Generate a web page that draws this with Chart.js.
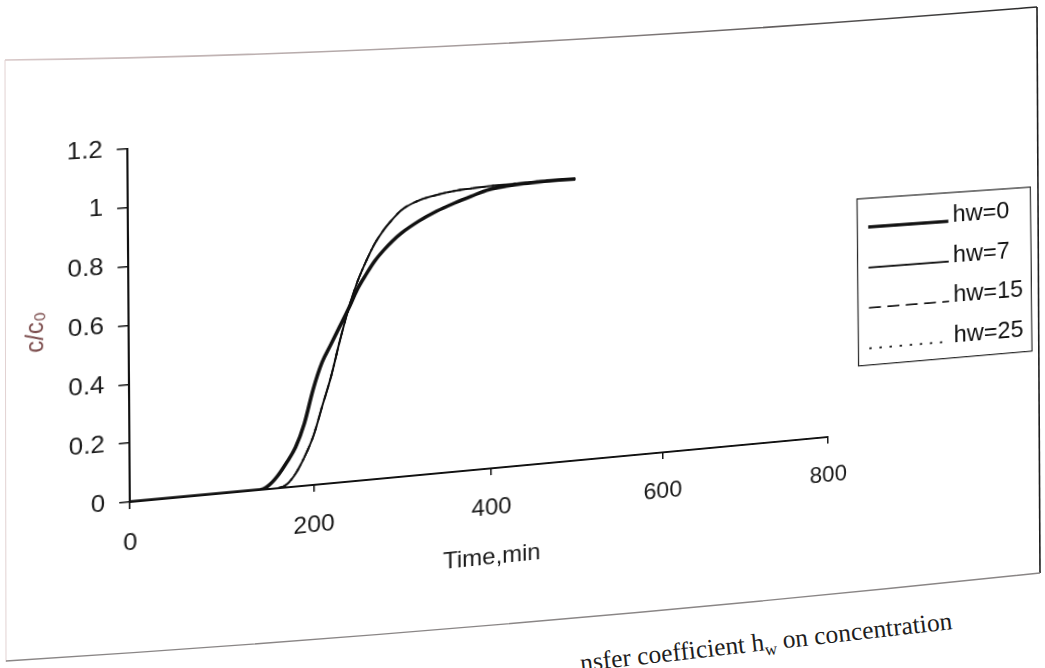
<!DOCTYPE html>
<html lang="en">
<head>
<meta charset="UTF-8">
<title>Effect of wall heat transfer coefficient on concentration</title>
<script src="https://cdn.jsdelivr.net/npm/chart.js@4.4.0/dist/chart.umd.min.js"></script>
<style>
  html, body { margin: 0; padding: 0; background: #fff; overflow: hidden; }
  #page { position: relative; width: 1045px; height: 668px; overflow: hidden; background: #fff; }
  #frame { position: absolute; left: 0; top: 0; }
  #plot { position: absolute; left: 0; top: 0; transform-origin: 0 0; }
</style>
</head>
<body>
<div id="page">
  <!-- outer box of the figure and the caption under it -->
  <svg id="frame" width="1045" height="668">
    <defs>
      <linearGradient id="topEdge" x1="0" x2="1" y1="0" y2="0">
        <stop offset="0" stop-color="#d8c8c8"/>
        <stop offset="0.45" stop-color="#a59c9c"/>
        <stop offset="1" stop-color="#2a2a2a"/>
      </linearGradient>
    </defs>
    <path d="M5,60 Q450,55 1037,7" stroke="url(#topEdge)" stroke-width="1.6" fill="none"/>
    <line x1="5" y1="60" x2="6" y2="662" stroke="#e2d2d2" stroke-width="1"/>
    <line x1="1037" y1="7" x2="1040" y2="573" stroke="#1e1e1e" stroke-width="1.6"/>
    <path d="M6,661 Q500,630 1040,573" stroke="#8a8686" stroke-width="1.4" fill="none"/>
    <text x="953" y="629" text-anchor="end" transform="rotate(-6.5 953 629)"
          font-family="'Liberation Serif', 'Times New Roman', serif" font-size="25.5" fill="#1e1e1e">nsfer coefficient h<tspan font-size="17" dy="5">w</tspan><tspan dy="-5"> on concentration</tspan></text>
  </svg>
  <canvas id="plot" width="1100" height="680"></canvas>
</div>

<script>
// breakthrough curves, time in minutes
const times = [0, 140, 150, 160, 170, 180, 190, 200, 210, 220, 230, 240, 250, 260,
               270, 280, 290, 300, 320, 340, 360, 380, 400, 420, 440, 460, 480, 500];
const hw0  = [0, 0, 0.012, 0.042, 0.085, 0.135, 0.215, 0.33, 0.42, 0.48, 0.54, 0.6, 0.665, 0.715,
              0.76, 0.795, 0.825, 0.85, 0.888, 0.918, 0.942, 0.963, 0.982, 0.99, 0.995, 0.998, 1.0, 1.0];
const hw7  = [0, 0, 0, 0, 0.01, 0.045, 0.1, 0.17, 0.27, 0.37, 0.49, 0.6, 0.69, 0.76,
              0.82, 0.865, 0.9, 0.93, 0.96, 0.975, 0.985, 0.99, 0.994, 0.996, 0.998, 1.0, 1.0, 1.0];
const hw15 = [0, 0, 0, 0, 0.01, 0.045, 0.1, 0.17, 0.27, 0.37, 0.49, 0.6, 0.69, 0.76,
              0.82, 0.865, 0.9, 0.93, 0.96, 0.975, 0.985, 0.99, 0.994, 0.996, 0.998, 1.0, 1.0, 1.0];
const hw25 = [0, 0, 0, 0, 0.01, 0.045, 0.1, 0.17, 0.27, 0.37, 0.49, 0.6, 0.69, 0.76,
              0.82, 0.865, 0.9, 0.93, 0.96, 0.975, 0.985, 0.99, 0.994, 0.996, 0.998, 1.0, 1.0, 1.0];
const seriesNames = ['hw=0', 'hw=7', 'hw=15', 'hw=25'];
const xTickValues = [0, 200, 400, 600, 800];
const yTickValues = [0, 0.2, 0.4, 0.6, 0.8, 1, 1.2];

// where the plot corners land on the (tilted) page
const plotCorners = [[127.5, 149], [825, 108], [828, 437], [130, 502]];
// legend box on the page: top-left and bottom-right
const legendTL = [857, 199];
const legendBR = [1032, 351];

const FONT = '"Liberation Sans", Arial, sans-serif';
Chart.defaults.font.family = FONT;

function toPoints(ys) {
    return times.map((t, i) => ({ x: t, y: ys[i] }));
}

// 4-point projective map, returns 3x3 row-major
function solveHomography(src, dst) {
    const A = [], B = [];
    for (let i = 0; i < 4; i++) {
        const [x, y] = src[i], [u, v] = dst[i];
        A.push([x, y, 1, 0, 0, 0, -u * x, -u * y]); B.push(u);
        A.push([0, 0, 0, x, y, 1, -v * x, -v * y]); B.push(v);
    }
    const n = 8;
    for (let i = 0; i < n; i++) {
        let p = i;
        for (let r = i + 1; r < n; r++) if (Math.abs(A[r][i]) > Math.abs(A[p][i])) p = r;
        [A[i], A[p]] = [A[p], A[i]];
        [B[i], B[p]] = [B[p], B[i]];
        for (let r = i + 1; r < n; r++) {
            const f = A[r][i] / A[i][i];
            for (let c = i; c < n; c++) A[r][c] -= f * A[i][c];
            B[r] -= f * B[i];
        }
    }
    const h = new Array(n);
    for (let i = n - 1; i >= 0; i--) {
        let s = B[i];
        for (let c = i + 1; c < n; c++) s -= A[i][c] * h[c];
        h[i] = s / A[i][i];
    }
    return [h[0], h[1], h[2], h[3], h[4], h[5], h[6], h[7], 1];
}

function invert3(m) {
    const [a, b, c, d, e, f, g, h, i] = m;
    const A = e * i - f * h, B = -(d * i - f * g), C = d * h - e * g;
    const det = a * A + b * B + c * C;
    return [A / det, -(b * i - c * h) / det, (b * f - c * e) / det,
            B / det, (a * i - c * g) / det, -(a * f - c * d) / det,
            C / det, -(a * h - b * g) / det, (a * e - b * d) / det];
}

function mapPoint(m, p) {
    const w = m[6] * p[0] + m[7] * p[1] + m[8];
    return [(m[0] * p[0] + m[1] * p[1] + m[2]) / w, (m[3] * p[0] + m[4] * p[1] + m[5]) / w];
}

let pageToCanvas = null;

// tilts the canvas like the scanned sheet and draws the boxed legend
const sheetWarp = {
    id: 'sheetWarp',
    afterLayout(chart) {
        const a = chart.chartArea;
        const src = [[a.left, a.top], [a.right, a.top], [a.right, a.bottom], [a.left, a.bottom]];
        const H = solveHomography(src, plotCorners);
        chart.canvas.style.transform = 'matrix3d(' + [
            H[0], H[3], 0, H[6],
            H[1], H[4], 0, H[7],
            0, 0, 1, 0,
            H[2], H[5], 0, 1
        ].join(',') + ')';
        pageToCanvas = invert3(H);
    },
    afterDraw(chart) {
        if (!pageToCanvas) return;
        const ctx = chart.ctx;
        const p0 = mapPoint(pageToCanvas, legendTL);
        const p1 = mapPoint(pageToCanvas, legendBR);
        const x0 = p0[0], y0 = p0[1], w = p1[0] - x0, h = p1[1] - y0;
        const k = h / (legendBR[1] - legendTL[1]);
        ctx.save();
        ctx.strokeStyle = '#2a2a2a';
        ctx.lineWidth = 1.3;
        ctx.strokeRect(x0, y0, w, h);
        chart.data.datasets.forEach((ds, i) => {
            const cy = y0 + h * (0.14 + 0.2425 * i);
            ctx.beginPath();
            ctx.setLineDash(ds.borderDash || []);
            ctx.lineWidth = ds.borderWidth;
            ctx.strokeStyle = ds.borderColor;
            ctx.moveTo(x0 + 10 * k, cy + 5 * k);
            ctx.lineTo(x0 + 84 * k, cy + 5 * k);
            ctx.stroke();
            ctx.setLineDash([]);
            ctx.fillStyle = '#111';
            ctx.font = Math.round(22 * k) + 'px ' + FONT;
            ctx.textBaseline = 'middle';
            ctx.fillText(ds.label, x0 + 88 * k, cy);
        });
        ctx.restore();
    }
};

const lineStyles = [
    { borderWidth: 3.6, borderDash: [] },
    { borderWidth: 2.0, borderDash: [] },
    { borderWidth: 1.8, borderDash: [13, 7] },
    { borderWidth: 2.0, borderDash: [2.5, 8.5] }
];

const seriesValues = [hw0, hw7, hw15, hw25];

new Chart(document.getElementById('plot'), {
    type: 'line',
    data: {
        datasets: seriesValues.map((ys, i) => ({
            label: seriesNames[i],
            data: toPoints(ys),
            borderColor: '#111',
            borderWidth: lineStyles[i].borderWidth,
            borderDash: lineStyles[i].borderDash,
            pointRadius: 0,
            fill: false,
            cubicInterpolationMode: 'monotone'
        }))
    },
    options: {
        responsive: false,
        animation: false,
        devicePixelRatio: 1,
        layout: { padding: { left: 19, top: 149, right: 272, bottom: 74 } },
        plugins: { legend: { display: false }, tooltip: { enabled: false } },
        scales: {
            x: {
                type: 'linear',
                min: 0,
                max: 800,
                afterBuildTicks: s => { s.ticks = xTickValues.map(v => ({ value: v })); },
                ticks: { color: '#1a1a1a', font: { size: 24, lineHeight: 1 }, padding: 22, maxRotation: 0, callback: v => String(v) },
                grid: { drawOnChartArea: false, drawTicks: true, tickLength: 7, color: '#111', lineWidth: 1.5 },
                border: { display: true, color: '#111', width: 2 },
                title: { display: true, text: 'Time,min', color: '#1a1a1a', font: { size: 24, lineHeight: 1 }, padding: { top: 5, bottom: 0 } }
            },
            y: {
                min: 0,
                max: 1.2,
                afterBuildTicks: s => { s.ticks = yTickValues.map(v => ({ value: v })); },
                ticks: { color: '#1a1a1a', font: { size: 24 }, padding: 13, callback: v => String(v) },
                grid: { drawOnChartArea: false, drawTicks: true, tickLength: 10, color: '#111', lineWidth: 1.5 },
                border: { display: true, color: '#111', width: 2 },
                title: { display: true, text: 'c/c₀', color: '#7d4e4e', font: { size: 24 }, padding: { top: 11, bottom: 2 } }
            }
        }
    },
    plugins: [sheetWarp]
});
</script>
</body>
</html>
